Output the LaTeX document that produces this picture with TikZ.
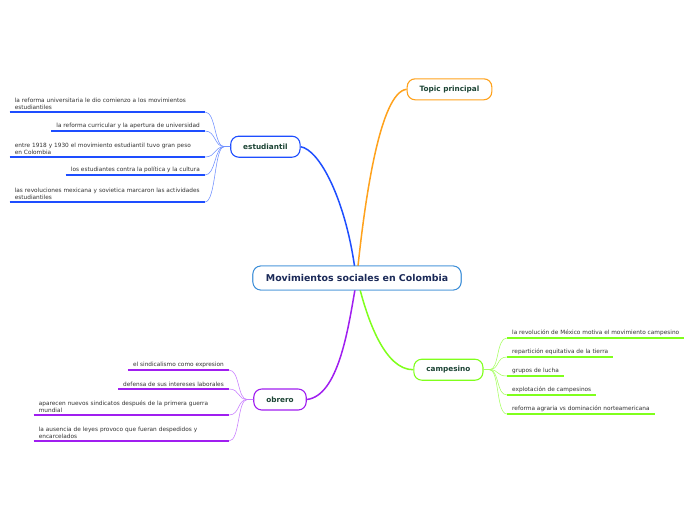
\documentclass[tikz,border=0pt]{standalone}
\usepackage{fontspec}
\setmainfont{DejaVu Sans}
\definecolor{cblue}{HTML}{1E4EFF}
\definecolor{cbluel}{HTML}{6F8FFF}
\definecolor{corange}{HTML}{FFA21C}
\definecolor{cgreen}{HTML}{80FF1C}
\definecolor{cgreenl}{HTML}{A6FF60}
\definecolor{cpurple}{HTML}{A01EF0}
\definecolor{cpurplel}{HTML}{C87CFF}
\definecolor{ccentral}{HTML}{3C8ED8}
\definecolor{tnavy}{HTML}{1B2A58}
\definecolor{tgreen}{HTML}{1C4434}
\definecolor{tleaf}{HTML}{333333}
\tikzset{
  central/.style={draw=ccentral, line width=0.9pt, rounded corners=8pt, fill=white,
    minimum height=24pt, inner xsep=13pt, text=tnavy,
    font=\fontsize{9.4}{11}\selectfont\bfseries},
  branch/.style={draw=#1, line width=1.1pt, rounded corners=8pt, fill=white,
    minimum height=21pt, inner xsep=12.5pt, text=tgreen,
    font=\fontsize{7.3}{9}\selectfont\bfseries},
  leaf/.style={inner xsep=5pt, inner ysep=2.2pt, align=left, text=tleaf,
    font=\fontsize{5.8}{7}\selectfont},
  wide/.style={text width=185pt},
  uline/.style={line width=1.6pt, draw=#1},
  maincon/.style={line width=1.5pt, draw=#1},
  leafcon/.style={line width=0.55pt, draw=#1},
}
\begin{document}
\begin{tikzpicture}[x=1pt,y=-1pt]
\useasboundingbox[fill=white] (0,0) rectangle (696,520);

% central and branches
\node[central] (c) at (357,278) {Movimientos sociales en Colombia};
\node[branch=corange] (top) at (449.5,89.3) {Topic principal};
\node[branch=cblue] (est) at (265.4,146.7) {estudiantil};
\node[branch=cgreen] (cam) at (448.4,369.7) {campesino};
\node[branch=cpurple] (obr) at (280,399.5) {obrero};

% main connectors
\coordinate (ct1) at (354.5,266);
\coordinate (ct2) at (358,266);
\coordinate (cb1) at (355,289.5);
\coordinate (cb2) at (360,289.5);
\draw[maincon=cblue] (ct1) .. controls (345,200) and (320,150) .. (est.east);
\draw[maincon=corange] (ct2) .. controls (365,200) and (380,92) .. (top.west);
\draw[maincon=cpurple] (cb1) .. controls (348,330) and (338,396) .. (obr.east);
\draw[maincon=cgreen] (cb2) .. controls (368,320) and (385,370) .. (cam.west);
\node[central] at (c) {Movimientos sociales en Colombia};

% estudiantil leaves
\node[leaf,wide,anchor=south east] (e1) at (205,112) {\mbox{la reforma universitaria le dio comienzo a los movimientos}\\estudiantiles};
\node[leaf,anchor=south east] (e2) at (205,131) {la reforma curricular y la apertura de universidad};
\node[leaf,wide,anchor=south east] (e3) at (205,157) {\mbox{entre 1918 y 1930 el movimiento estudiantil tuvo gran peso}\\en Colombia};
\node[leaf,anchor=south east] (e4) at (205,175) {los estudiantes contra la política y la cultura};
\node[leaf,wide,anchor=south east] (e5) at (205,202) {\mbox{las revoluciones mexicana y sovietica marcaron las actividades}\\estudiantiles};
\foreach \n in {e1,e2,e3,e4,e5}{
  \draw[uline=cblue] (\n.south west) -- (\n.south east);
  \draw[leafcon=cbluel] (\n.south east) .. controls +(11,0) and +(-10,0) .. ([xshift=-6pt]est.west) -- (est.west);
}

% obrero leaves
\node[leaf,anchor=south east] (o1) at (229,370) {el sindicalismo como expresion};
\node[leaf,anchor=south east] (o2) at (229,389) {defensa de sus intereses laborales};
\node[leaf,wide,anchor=south east] (o3) at (229,415) {\mbox{aparecen nuevos sindicatos después de la primera guerra}\\mundial};
\node[leaf,wide,anchor=south east] (o4) at (229,441) {\mbox{la ausencia de leyes provoco que fueran despedidos y}\\encarcelados};
\foreach \n in {o1,o2,o3,o4}{
  \draw[uline=cpurple] (\n.south west) -- (\n.south east);
  \draw[leafcon=cpurplel] (\n.south east) .. controls +(11,0) and +(-10,0) .. ([xshift=-6pt]obr.west) -- (obr.west);
}

% campesino leaves
\node[leaf,anchor=south west] (k1) at (507,338) {la revolución de México motiva el movimiento campesino};
\node[leaf,anchor=south west] (k2) at (507,357) {repartición equitativa de la tierra};
\node[leaf,anchor=south west] (k3) at (507,376) {grupos de lucha};
\node[leaf,anchor=south west] (k4) at (507,395) {explotación de campesinos};
\node[leaf,anchor=south west] (k5) at (507,414) {reforma agraria vs dominación norteamericana};
\foreach \n in {k1,k2,k3,k4,k5}{
  \draw[uline=cgreen] (\n.south west) -- (\n.south east);
  \draw[leafcon=cgreenl] (\n.south west) .. controls +(-11,0) and +(10,0) .. ([xshift=6pt]cam.east) -- (cam.east);
}
\end{tikzpicture}
\end{document}
